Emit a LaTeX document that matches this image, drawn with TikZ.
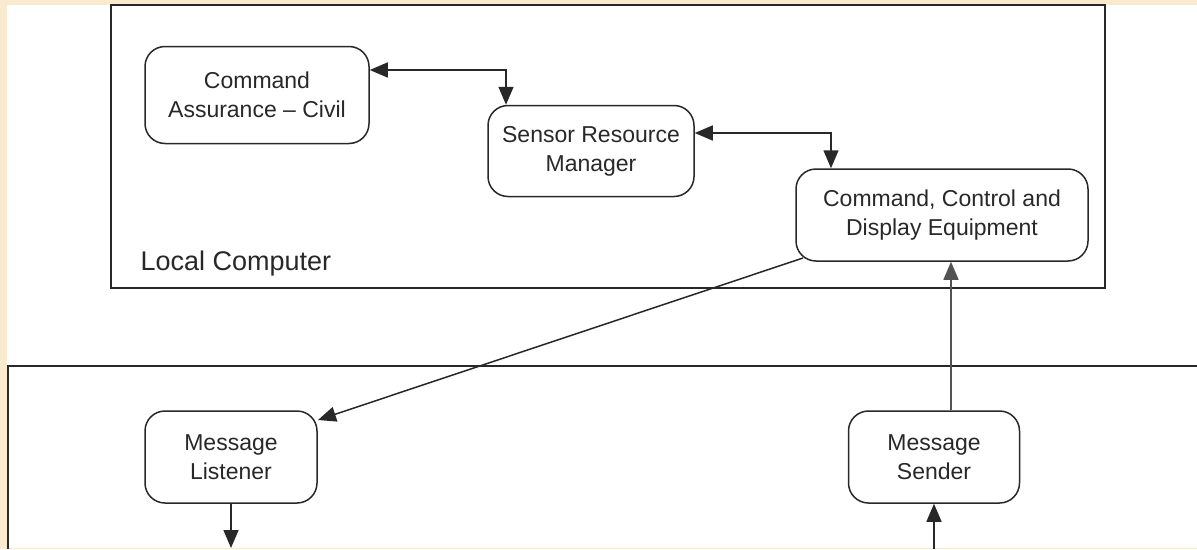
\documentclass[tikz,border=0pt]{standalone}
\usepackage{fontspec}
\setmainfont{Liberation Sans}
\usetikzlibrary{arrows.meta}
\definecolor{beige}{RGB}{251,235,206}
\definecolor{ink}{RGB}{40,40,40}
\begin{document}
\begin{tikzpicture}[x=1pt,y=-1pt,
  proc/.style={draw=ink,line width=1.5pt,rounded corners=20pt,align=center,
    font=\fontsize{23}{29}\selectfont,text=ink,inner sep=0pt,fill=white},
  frame/.style={draw=ink,line width=1.8pt},
  conn/.style={draw=ink,line width=1.5pt},
  tip/.style={-{Triangle[length=18pt,width=15pt]}},
  both/.style={{Triangle[length=18pt,width=15pt]}-{Triangle[length=18pt,width=15pt]}}]
\useasboundingbox (0,0) rectangle (1197,549);
\fill[beige] (0,0) rectangle (1197,549);
\fill[white] (7,5) rectangle (1197,548);
% frames
\draw[frame] (111,5) rectangle (1105,288);
\draw[frame] (1197,366) -- (8,366) -- (8,549);
\node[anchor=base west,font=\fontsize{27}{32}\selectfont,text=ink] (lc) at (137,270) {Local Computer};
% nodes
\node[proc,minimum width=224pt,minimum height=97pt] (cac) at (257,95) {Command\\Assurance -- Civil};
\node[proc,minimum width=206pt,minimum height=91pt] (srm) at (591,151) {Sensor Resource\\Manager};
\node[proc,minimum width=292pt,minimum height=92pt] (ccde) at (942,215) {Command, Control and\\Display Equipment};
\node[proc,minimum width=172pt,minimum height=92pt] (ml) at (231,457) {Message\\Listener};
\node[proc,minimum width=171pt,minimum height=92pt] (ms) at (934,457) {Message\\Sender};
\coordinate (mlout) at (231,548);
\coordinate (msin) at (934,549);
\coordinate (ccdeout) at (803,258);
\coordinate (mlin) at (318,420);
% connectors
\draw[conn,both] (cac.east |- 0,70) -| (srm.north -| 506,0);
\draw[conn,both] (srm.east |- 0,133) -| (ccde.north -| 831,0);
\draw[conn,tip] (ccdeout) -- (mlin);
\draw[conn,tip,draw=ink!80] (ms.north -| 951,0) -- (ccde.south -| 951,0);
\draw[conn,tip] (ml.south) -- (mlout);
\draw[conn,tip] (msin) -- (ms.south);
\end{tikzpicture}
\end{document}
